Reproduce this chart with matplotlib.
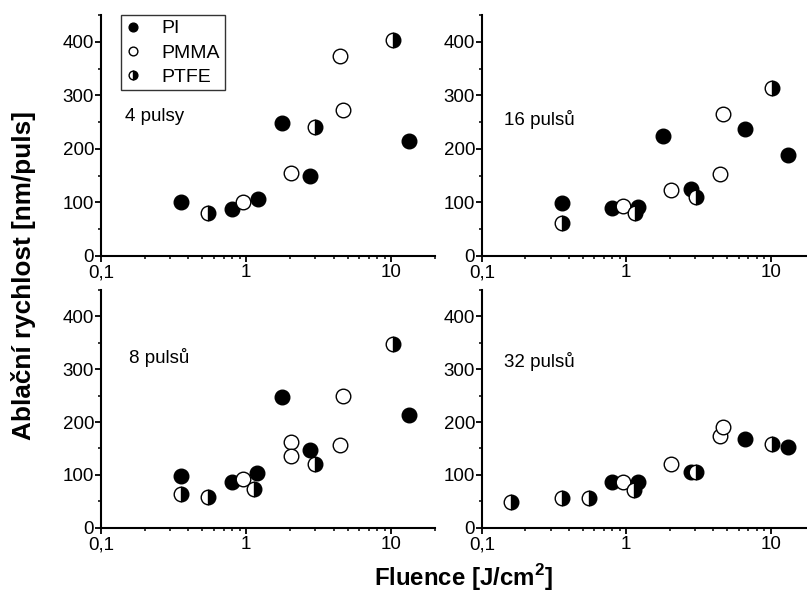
import matplotlib
matplotlib.use('Agg')
from matplotlib import pyplot as plt
from matplotlib.ticker import FixedLocator, FuncFormatter, MultipleLocator, NullFormatter

plt.rcParams['font.family'] = 'Liberation Sans'
plt.rcParams['mathtext.fontset'] = 'custom'
plt.rcParams['mathtext.rm'] = 'Liberation Sans'
plt.rcParams['mathtext.bf'] = 'Liberation Sans:bold'

######### Data : ablation rate [nm/puls] vs fluence [J/cm2] #########

# 4 pulses
pi4_x = [0.356, 0.80, 1.20, 1.76, 2.74, 13.2]
pi4_y = [100, 88, 106, 248, 150, 215]
pmma4_x = [0.946, 2.03, 4.40, 4.67]
pmma4_y = [100, 155, 373, 273]
ptfe4_x = [0.545, 3.00, 10.2]
ptfe4_y = [80, 240, 404]

# 16 pulses
pi16_x = [0.357, 0.80, 1.20, 1.79, 2.79, 6.64, 13.3]
pi16_y = [99, 89, 91, 225, 126, 238, 188]
pmma16_x = [0.95, 2.05, 4.43, 4.70]
pmma16_y = [94, 124, 153, 265]
ptfe16_x = [0.357, 1.15, 3.02, 10.3]
ptfe16_y = [62, 80, 110, 314]

# 8 pulses
pi8_x = [0.356, 0.80, 1.19, 1.76, 2.74, 13.2]
pi8_y = [98, 87, 104, 248, 148, 214]
pmma8_x = [0.95, 2.03, 2.03, 4.40, 4.67]
pmma8_y = [92, 163, 135, 156, 249]
ptfe8_x = [0.356, 0.545, 1.13, 3.00, 10.2]
ptfe8_y = [63, 58, 74, 120, 348]

# 32 pulses
pi32_x = [0.80, 1.20, 2.79, 6.64, 13.3]
pi32_y = [86, 86, 106, 167, 152]
pmma32_x = [0.95, 2.05, 4.43, 4.70]
pmma32_y = [87, 121, 174, 191]
ptfe32_x = [0.16, 0.357, 0.55, 1.14, 3.02, 10.3]
ptfe32_y = [48, 57, 57, 71, 105, 158]

panel_labels = ['4 pulsy', '16 pulsů', '8 pulsů', '32 pulsů']
panels = [
    (pi4_x, pi4_y, pmma4_x, pmma4_y, ptfe4_x, ptfe4_y),
    (pi16_x, pi16_y, pmma16_x, pmma16_y, ptfe16_x, ptfe16_y),
    (pi8_x, pi8_y, pmma8_x, pmma8_y, ptfe8_x, ptfe8_y),
    (pi32_x, pi32_y, pmma32_x, pmma32_y, ptfe32_x, ptfe32_y),
]

######### Layout #########

W, H = 807, 596
fig = plt.figure(figsize=(W / 100, H / 100), dpi=100)

# axes boxes in pixels: left, bottom(y from top), right, top(y from top)
boxes = [
    (101, 256, 435, 15),
    (482, 256, 814, 15),
    (101, 527.7, 435, 290),
    (482, 527.7, 814, 290),
]
label_pos = [(0.072, 0.577), (0.066, 0.568), (0.084, 0.718), (0.066, 0.70)]

ms = 10.5
axes = []
for i, (l, b, r, t) in enumerate(boxes):
    ax = fig.add_axes([l / W, 1 - b / H, (r - l) / W, (b - t) / H])
    axes.append(ax)
    pix, piy, pmx, pmy, ptx, pty = panels[i]

    ax.plot(pix, piy, 'o', ls='none', ms=ms, mfc='black', mec='black', mew=1, label='PI', clip_on=False)
    ax.plot(pmx, pmy, 'o', ls='none', ms=ms, mfc='white', mec='black', mew=1, label='PMMA', clip_on=False)
    ax.plot(ptx, pty, 'o', ls='none', ms=ms, fillstyle='right', mfc='black', mfcalt='white',
            mec='black', mew=1, label='PTFE', clip_on=False)

    ax.set_xscale('log')
    ax.set_xlim(0.1, 20)
    ax.set_ylim(0, 450)
    ax.xaxis.set_major_locator(FixedLocator([0.1, 1, 10]))
    ax.xaxis.set_major_formatter(FuncFormatter(lambda v, _: ('%g' % v).replace('.', ',')))
    ax.xaxis.set_minor_formatter(NullFormatter())
    ax.yaxis.set_major_locator(MultipleLocator(100))
    ax.yaxis.set_minor_locator(MultipleLocator(50))

    for side in ['top', 'right']:
        ax.spines[side].set_visible(False)
    for side in ['left', 'bottom']:
        ax.spines[side].set_linewidth(1.5)
    ax.tick_params(which='major', direction='out', length=4, width=1.3, labelsize=13.5, pad=1)
    ax.tick_params(axis='x', which='major', pad=2)
    ax.tick_params(which='minor', direction='out', length=2.5, width=1.1)

    ax.text(label_pos[i][0], label_pos[i][1], panel_labels[i], transform=ax.transAxes,
            fontsize=13.5, ha='left', va='center')

leg = axes[0].legend(loc='upper left', bbox_to_anchor=(121 / W, 1 - 15 / H),
                     bbox_transform=fig.transFigure, markerscale=0.6, fontsize=14,
                     frameon=True, fancybox=False, borderpad=0.25, labelspacing=0.33,
                     handletextpad=1.1, handlelength=0.75, borderaxespad=0)
leg.get_frame().set_edgecolor('black')
leg.get_frame().set_linewidth(1.0)

fig.text(24 / W, 1 - 276 / H, 'Ablační rychlost [nm/puls]', rotation=90,
         ha='center', va='center', fontsize=18.8, fontweight='bold')
fig.text(463 / W, 1 - 578 / H, r'Fluence [J/cm$^{\mathbf{2}}$]',
         ha='center', va='center', fontsize=17.3, fontweight='bold')

fig.savefig('out.png', dpi=100)
